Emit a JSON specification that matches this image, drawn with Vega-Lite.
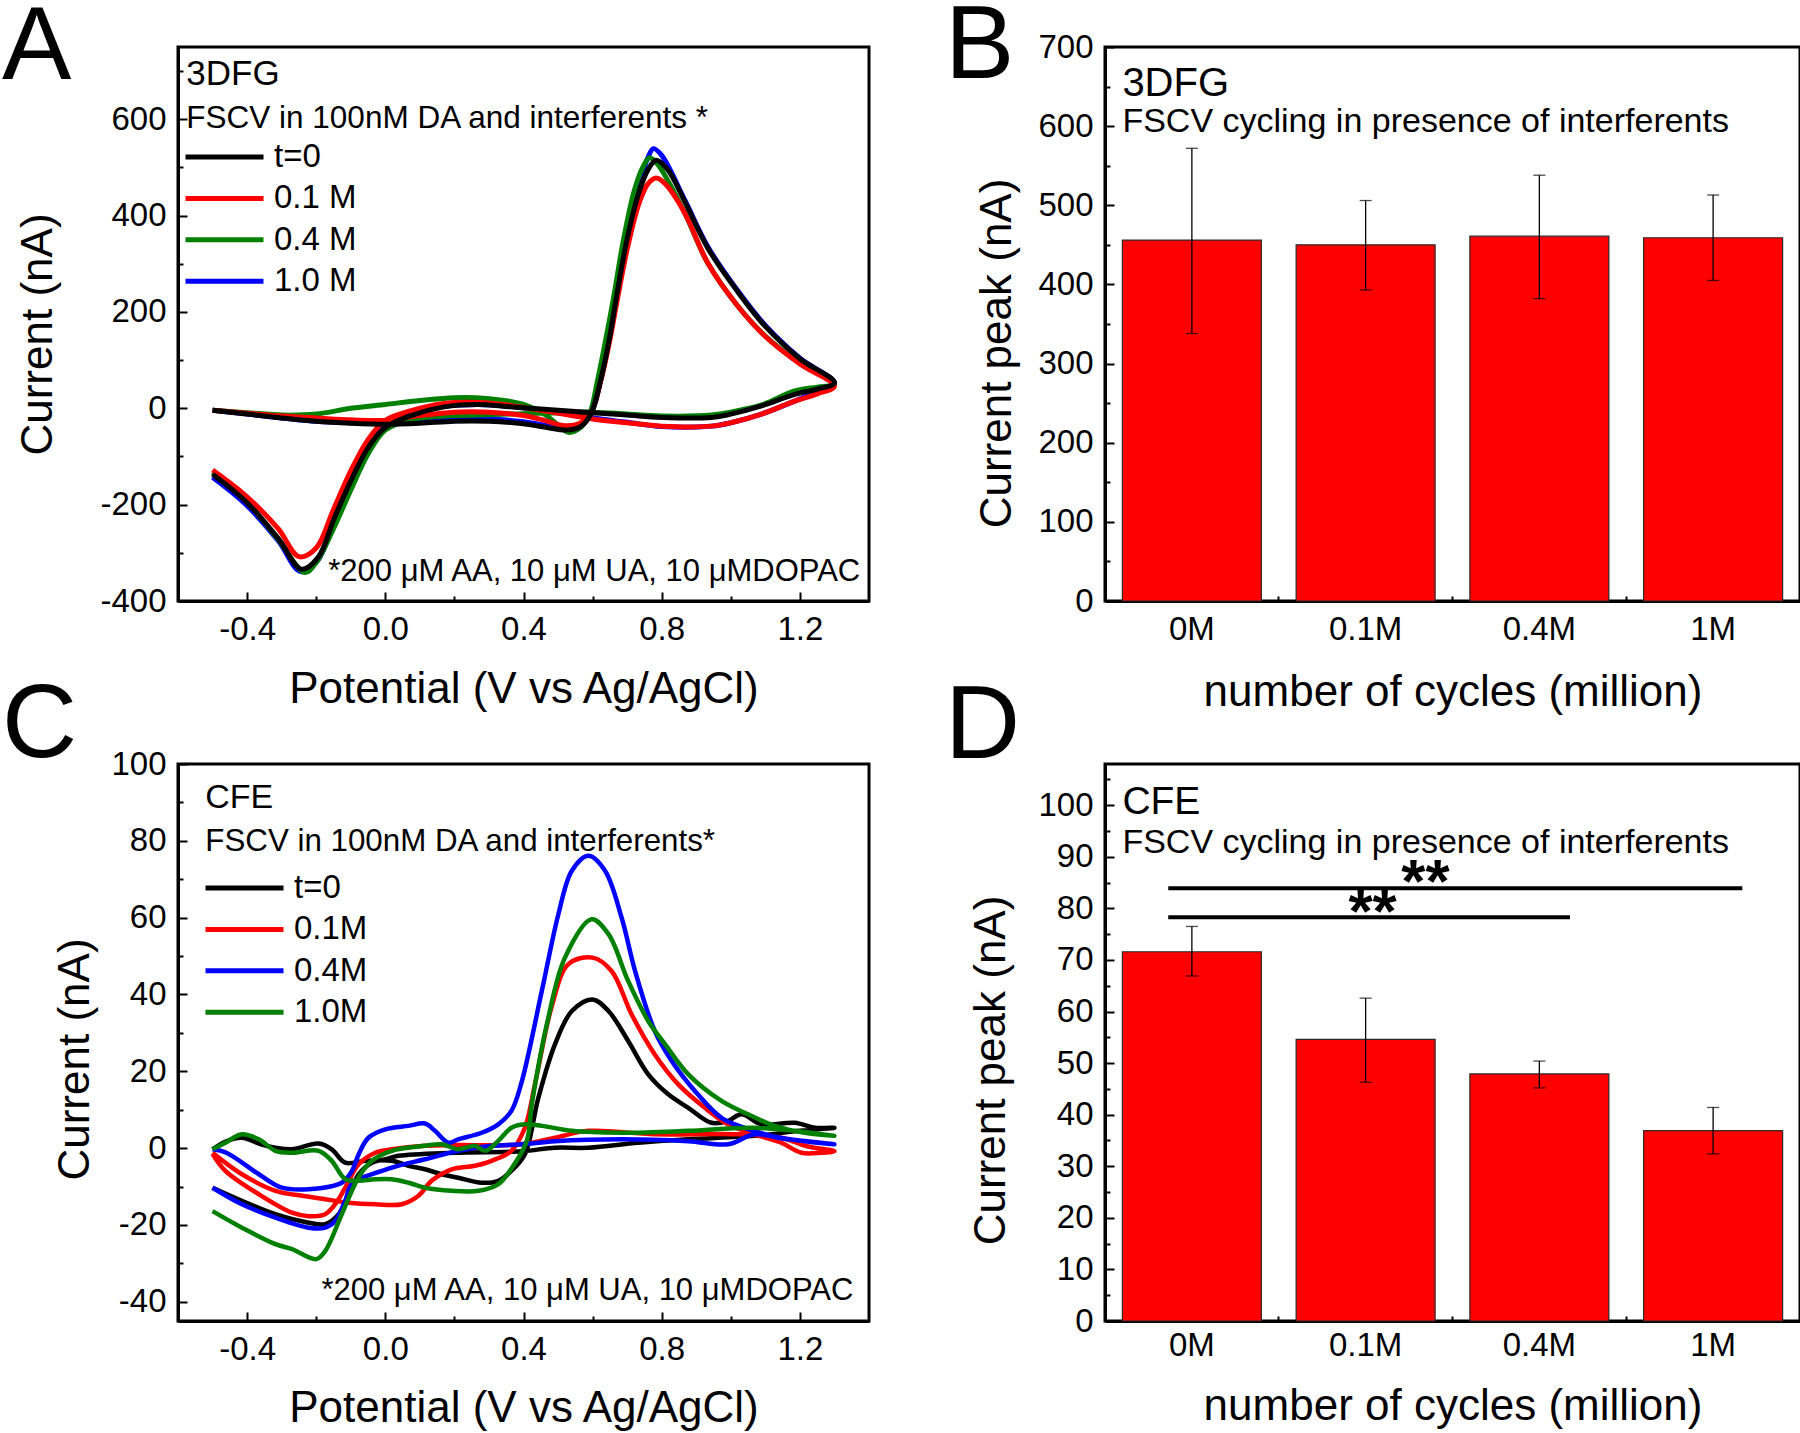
{
"$schema": "https://vega.github.io/schema/vega-lite/v6.json",
"padding": {"left": 0, "top": -7, "right": 0, "bottom": 0},
"bounds": "flush",
"columns": 2,
"spacing": {"row": 163, "column": 236},
"resolve": {"scale": {"x": "independent", "y": "independent", "color": "independent"}, "legend": {"color": "independent"}},
"config": {
  "font": "Liberation Sans",
  "background": "white",
  "view": {"stroke": "black", "strokeWidth": 3},
  "axis": {"domainColor": "black", "domainWidth": 3, "tickColor": "black", "tickWidth": 2, "tickSize": -9, "labelFontSize": 33, "labelColor": "black", "labelPadding": 21, "titleFontSize": 44, "titleFontWeight": "normal", "titleColor": "black", "grid": false, "labelFont": "Liberation Sans", "titleFont": "Liberation Sans", "labelOverlap": false},
  "title": {"fontSize": 104, "fontWeight": "normal", "color": "black", "anchor": "start", "frame": "group", "baseline": "alphabetic", "font": "Liberation Sans"},
  "legend": {"symbolType": "stroke", "symbolSize": 6084, "symbolStrokeWidth": 5, "labelFontSize": 33, "labelColor": "black", "clipHeight": 40, "rowPadding": 1.4, "labelOffset": 8, "padding": 0, "labelFont": "Liberation Sans"},
  "text": {"color": "black", "font": "Liberation Sans"}
},
"datasets": {
"cvA": [
{"s":"1.0 M","k":0,"v":-0.5,"i":-4},{"s":"1.0 M","k":1,"v":-0.4,"i":-12},{"s":"1.0 M","k":2,"v":-0.3,"i":-20},{"s":"1.0 M","k":3,"v":-0.2,"i":-27},{"s":"1.0 M","k":4,"v":-0.1,"i":-30},{"s":"1.0 M","k":5,"v":0,"i":-31},{"s":"1.0 M","k":6,"v":0.1,"i":-28},{"s":"1.0 M","k":7,"v":0.2,"i":-22},{"s":"1.0 M","k":8,"v":0.3,"i":-22},{"s":"1.0 M","k":9,"v":0.4,"i":-28},{"s":"1.0 M","k":10,"v":0.46,"i":-35},{"s":"1.0 M","k":11,"v":0.52,"i":-42},{"s":"1.0 M","k":12,"v":0.56,"i":-38},{"s":"1.0 M","k":13,"v":0.595,"i":-12},{"s":"1.0 M","k":14,"v":0.624,"i":62},{"s":"1.0 M","k":15,"v":0.65,"i":152},{"s":"1.0 M","k":16,"v":0.668,"i":232},{"s":"1.0 M","k":17,"v":0.7,"i":362},{"s":"1.0 M","k":18,"v":0.734,"i":462},{"s":"1.0 M","k":19,"v":0.76,"i":520},{"s":"1.0 M","k":20,"v":0.776,"i":539},{"s":"1.0 M","k":21,"v":0.8,"i":525},{"s":"1.0 M","k":22,"v":0.867,"i":432},{"s":"1.0 M","k":23,"v":0.933,"i":336},{"s":"1.0 M","k":24,"v":1.016,"i":248},{"s":"1.0 M","k":25,"v":1.1,"i":172},{"s":"1.0 M","k":26,"v":1.2,"i":104},{"s":"1.0 M","k":27,"v":1.3,"i":52},{"s":"1.0 M","k":28,"v":1.25,"i":35},{"s":"1.0 M","k":29,"v":1.185,"i":15},{"s":"1.0 M","k":30,"v":1.089,"i":-12},{"s":"1.0 M","k":31,"v":1.0,"i":-30},{"s":"1.0 M","k":32,"v":0.944,"i":-37},{"s":"1.0 M","k":33,"v":0.8,"i":-38},{"s":"1.0 M","k":34,"v":0.7,"i":-29},{"s":"1.0 M","k":35,"v":0.6,"i":-20},{"s":"1.0 M","k":36,"v":0.46,"i":-5},{"s":"1.0 M","k":37,"v":0.36,"i":4},{"s":"1.0 M","k":38,"v":0.27,"i":8},{"s":"1.0 M","k":39,"v":0.17,"i":4},{"s":"1.0 M","k":40,"v":0.075,"i":-12},{"s":"1.0 M","k":41,"v":0,"i":-35},{"s":"1.0 M","k":42,"v":-0.05,"i":-80},{"s":"1.0 M","k":43,"v":-0.1,"i":-150},{"s":"1.0 M","k":44,"v":-0.147,"i":-230},{"s":"1.0 M","k":45,"v":-0.195,"i":-315},{"s":"1.0 M","k":46,"v":-0.245,"i":-339},{"s":"1.0 M","k":47,"v":-0.31,"i":-275},{"s":"1.0 M","k":48,"v":-0.406,"i":-198},{"s":"1.0 M","k":49,"v":-0.5,"i":-143},
{"s":"0.4 M","k":0,"v":-0.5,"i":-4},{"s":"0.4 M","k":1,"v":-0.4,"i":-9},{"s":"0.4 M","k":2,"v":-0.3,"i":-14},{"s":"0.4 M","k":3,"v":-0.2,"i":-12},{"s":"0.4 M","k":4,"v":-0.1,"i":0},{"s":"0.4 M","k":5,"v":0,"i":8},{"s":"0.4 M","k":6,"v":0.1,"i":16},{"s":"0.4 M","k":7,"v":0.2,"i":22},{"s":"0.4 M","k":8,"v":0.3,"i":20},{"s":"0.4 M","k":9,"v":0.4,"i":8},{"s":"0.4 M","k":10,"v":0.46,"i":-12},{"s":"0.4 M","k":11,"v":0.5,"i":-35},{"s":"0.4 M","k":12,"v":0.53,"i":-50},{"s":"0.4 M","k":13,"v":0.565,"i":-40},{"s":"0.4 M","k":14,"v":0.59,"i":-15},{"s":"0.4 M","k":15,"v":0.615,"i":60},{"s":"0.4 M","k":16,"v":0.64,"i":150},{"s":"0.4 M","k":17,"v":0.66,"i":227},{"s":"0.4 M","k":18,"v":0.69,"i":352},{"s":"0.4 M","k":19,"v":0.72,"i":450},{"s":"0.4 M","k":20,"v":0.745,"i":500},{"s":"0.4 M","k":21,"v":0.765,"i":520},{"s":"0.4 M","k":22,"v":0.79,"i":505},{"s":"0.4 M","k":23,"v":0.82,"i":470},{"s":"0.4 M","k":24,"v":0.867,"i":405},{"s":"0.4 M","k":25,"v":0.933,"i":302},{"s":"0.4 M","k":26,"v":1.016,"i":216},{"s":"0.4 M","k":27,"v":1.1,"i":150},{"s":"0.4 M","k":28,"v":1.2,"i":94},{"s":"0.4 M","k":29,"v":1.3,"i":50},{"s":"0.4 M","k":30,"v":1.25,"i":44},{"s":"0.4 M","k":31,"v":1.185,"i":36},{"s":"0.4 M","k":32,"v":1.089,"i":7},{"s":"0.4 M","k":33,"v":1.0,"i":-8},{"s":"0.4 M","k":34,"v":0.944,"i":-14},{"s":"0.4 M","k":35,"v":0.8,"i":-16},{"s":"0.4 M","k":36,"v":0.7,"i":-12},{"s":"0.4 M","k":37,"v":0.6,"i":-8},{"s":"0.4 M","k":38,"v":0.46,"i":-10},{"s":"0.4 M","k":39,"v":0.36,"i":-12},{"s":"0.4 M","k":40,"v":0.27,"i":-14},{"s":"0.4 M","k":41,"v":0.17,"i":-16},{"s":"0.4 M","k":42,"v":0.075,"i":-24},{"s":"0.4 M","k":43,"v":0,"i":-45},{"s":"0.4 M","k":44,"v":-0.05,"i":-95},{"s":"0.4 M","k":45,"v":-0.1,"i":-170},{"s":"0.4 M","k":46,"v":-0.15,"i":-250},{"s":"0.4 M","k":47,"v":-0.2,"i":-320},{"s":"0.4 M","k":48,"v":-0.233,"i":-341},{"s":"0.4 M","k":49,"v":-0.31,"i":-272},{"s":"0.4 M","k":50,"v":-0.406,"i":-190},{"s":"0.4 M","k":51,"v":-0.5,"i":-133},
{"s":"0.1 M","k":0,"v":-0.5,"i":-4},{"s":"0.1 M","k":1,"v":-0.4,"i":-10},{"s":"0.1 M","k":2,"v":-0.3,"i":-16},{"s":"0.1 M","k":3,"v":-0.2,"i":-20},{"s":"0.1 M","k":4,"v":-0.1,"i":-24},{"s":"0.1 M","k":5,"v":0,"i":-25},{"s":"0.1 M","k":6,"v":0.1,"i":-15},{"s":"0.1 M","k":7,"v":0.2,"i":-8},{"s":"0.1 M","k":8,"v":0.3,"i":-8},{"s":"0.1 M","k":9,"v":0.4,"i":-15},{"s":"0.1 M","k":10,"v":0.46,"i":-25},{"s":"0.1 M","k":11,"v":0.52,"i":-36},{"s":"0.1 M","k":12,"v":0.56,"i":-32},{"s":"0.1 M","k":13,"v":0.595,"i":-10},{"s":"0.1 M","k":14,"v":0.624,"i":58},{"s":"0.1 M","k":15,"v":0.65,"i":142},{"s":"0.1 M","k":16,"v":0.668,"i":212},{"s":"0.1 M","k":17,"v":0.7,"i":330},{"s":"0.1 M","k":18,"v":0.734,"i":425},{"s":"0.1 M","k":19,"v":0.76,"i":466},{"s":"0.1 M","k":20,"v":0.784,"i":478},{"s":"0.1 M","k":21,"v":0.81,"i":466},{"s":"0.1 M","k":22,"v":0.867,"i":405},{"s":"0.1 M","k":23,"v":0.933,"i":302},{"s":"0.1 M","k":24,"v":1.016,"i":216},{"s":"0.1 M","k":25,"v":1.1,"i":149},{"s":"0.1 M","k":26,"v":1.2,"i":92},{"s":"0.1 M","k":27,"v":1.3,"i":46},{"s":"0.1 M","k":28,"v":1.25,"i":30},{"s":"0.1 M","k":29,"v":1.185,"i":15},{"s":"0.1 M","k":30,"v":1.089,"i":-12},{"s":"0.1 M","k":31,"v":1.0,"i":-30},{"s":"0.1 M","k":32,"v":0.944,"i":-37},{"s":"0.1 M","k":33,"v":0.8,"i":-37},{"s":"0.1 M","k":34,"v":0.7,"i":-30},{"s":"0.1 M","k":35,"v":0.6,"i":-22},{"s":"0.1 M","k":36,"v":0.46,"i":-5},{"s":"0.1 M","k":37,"v":0.36,"i":6},{"s":"0.1 M","k":38,"v":0.27,"i":12},{"s":"0.1 M","k":39,"v":0.17,"i":10},{"s":"0.1 M","k":40,"v":0.075,"i":-5},{"s":"0.1 M","k":41,"v":0,"i":-25},{"s":"0.1 M","k":42,"v":-0.05,"i":-65},{"s":"0.1 M","k":43,"v":-0.1,"i":-130},{"s":"0.1 M","k":44,"v":-0.15,"i":-210},{"s":"0.1 M","k":45,"v":-0.2,"i":-290},{"s":"0.1 M","k":46,"v":-0.25,"i":-308},{"s":"0.1 M","k":47,"v":-0.31,"i":-250},{"s":"0.1 M","k":48,"v":-0.406,"i":-180},{"s":"0.1 M","k":49,"v":-0.5,"i":-128},
{"s":"t=0","k":0,"v":-0.5,"i":-4},{"s":"t=0","k":1,"v":-0.4,"i":-12},{"s":"t=0","k":2,"v":-0.3,"i":-20},{"s":"t=0","k":3,"v":-0.2,"i":-27},{"s":"t=0","k":4,"v":-0.1,"i":-31},{"s":"t=0","k":5,"v":0,"i":-33},{"s":"t=0","k":6,"v":0.1,"i":-31},{"s":"t=0","k":7,"v":0.2,"i":-27},{"s":"t=0","k":8,"v":0.3,"i":-27},{"s":"t=0","k":9,"v":0.4,"i":-32},{"s":"t=0","k":10,"v":0.46,"i":-39},{"s":"t=0","k":11,"v":0.528,"i":-45},{"s":"t=0","k":12,"v":0.565,"i":-38},{"s":"t=0","k":13,"v":0.595,"i":-12},{"s":"t=0","k":14,"v":0.624,"i":60},{"s":"t=0","k":15,"v":0.65,"i":150},{"s":"t=0","k":16,"v":0.668,"i":227},{"s":"t=0","k":17,"v":0.7,"i":352},{"s":"t=0","k":18,"v":0.734,"i":448},{"s":"t=0","k":19,"v":0.76,"i":495},{"s":"t=0","k":20,"v":0.784,"i":515},{"s":"t=0","k":21,"v":0.817,"i":496},{"s":"t=0","k":22,"v":0.867,"i":429},{"s":"t=0","k":23,"v":0.933,"i":333},{"s":"t=0","k":24,"v":1.016,"i":246},{"s":"t=0","k":25,"v":1.1,"i":170},{"s":"t=0","k":26,"v":1.2,"i":103},{"s":"t=0","k":27,"v":1.3,"i":53},{"s":"t=0","k":28,"v":1.25,"i":40},{"s":"t=0","k":29,"v":1.185,"i":29},{"s":"t=0","k":30,"v":1.089,"i":5},{"s":"t=0","k":31,"v":1.0,"i":-12},{"s":"t=0","k":32,"v":0.944,"i":-19},{"s":"t=0","k":33,"v":0.8,"i":-19},{"s":"t=0","k":34,"v":0.7,"i":-14},{"s":"t=0","k":35,"v":0.6,"i":-9},{"s":"t=0","k":36,"v":0.46,"i":-2},{"s":"t=0","k":37,"v":0.36,"i":3},{"s":"t=0","k":38,"v":0.27,"i":8},{"s":"t=0","k":39,"v":0.17,"i":3},{"s":"t=0","k":40,"v":0.075,"i":-15},{"s":"t=0","k":41,"v":0,"i":-40},{"s":"t=0","k":42,"v":-0.05,"i":-82},{"s":"t=0","k":43,"v":-0.1,"i":-151},{"s":"t=0","k":44,"v":-0.147,"i":-227},{"s":"t=0","k":45,"v":-0.195,"i":-310},{"s":"t=0","k":46,"v":-0.243,"i":-334},{"s":"t=0","k":47,"v":-0.31,"i":-270},{"s":"t=0","k":48,"v":-0.406,"i":-192},{"s":"t=0","k":49,"v":-0.5,"i":-137}
],
"cvC": [
{"s":"t=0","k":0,"v":-0.5,"i":-0.3},{"s":"t=0","k":1,"v":-0.46,"i":1.8},{"s":"t=0","k":2,"v":-0.415,"i":2.7},{"s":"t=0","k":3,"v":-0.36,"i":1},{"s":"t=0","k":4,"v":-0.318,"i":0.1},{"s":"t=0","k":5,"v":-0.27,"i":-0.3},{"s":"t=0","k":6,"v":-0.193,"i":1.2},{"s":"t=0","k":7,"v":-0.155,"i":-0.3},{"s":"t=0","k":8,"v":-0.116,"i":-3.8},{"s":"t=0","k":9,"v":-0.058,"i":-3.3},{"s":"t=0","k":10,"v":0.019,"i":-3.3},{"s":"t=0","k":11,"v":0.067,"i":-4.6},{"s":"t=0","k":12,"v":0.115,"i":-5.5},{"s":"t=0","k":13,"v":0.163,"i":-6.8},{"s":"t=0","k":14,"v":0.211,"i":-7.7},{"s":"t=0","k":15,"v":0.279,"i":-9},{"s":"t=0","k":16,"v":0.327,"i":-8.5},{"s":"t=0","k":17,"v":0.365,"i":-5.9},{"s":"t=0","k":18,"v":0.404,"i":-1.6},{"s":"t=0","k":19,"v":0.443,"i":13.1},{"s":"t=0","k":20,"v":0.491,"i":27},{"s":"t=0","k":21,"v":0.54,"i":35.7},{"s":"t=0","k":22,"v":0.6,"i":38.7},{"s":"t=0","k":23,"v":0.646,"i":35.7},{"s":"t=0","k":24,"v":0.703,"i":27.9},{"s":"t=0","k":25,"v":0.761,"i":19.2},{"s":"t=0","k":26,"v":0.819,"i":14},{"s":"t=0","k":27,"v":0.877,"i":10.5},{"s":"t=0","k":28,"v":0.944,"i":6.6},{"s":"t=0","k":29,"v":0.992,"i":7.1},{"s":"t=0","k":30,"v":1.031,"i":8.8},{"s":"t=0","k":31,"v":1.089,"i":6.2},{"s":"t=0","k":32,"v":1.185,"i":6.6},{"s":"t=0","k":33,"v":1.243,"i":5.3},{"s":"t=0","k":34,"v":1.3,"i":5.3},{"s":"t=0","k":35,"v":1.2,"i":4.5},{"s":"t=0","k":36,"v":1.069,"i":3.2},{"s":"t=0","k":37,"v":0.877,"i":2.3},{"s":"t=0","k":38,"v":0.732,"i":1.4},{"s":"t=0","k":39,"v":0.588,"i":0.1},{"s":"t=0","k":40,"v":0.491,"i":0.1},{"s":"t=0","k":41,"v":0.395,"i":-0.8},{"s":"t=0","k":42,"v":0.2,"i":-1.2},{"s":"t=0","k":43,"v":0.038,"i":-2},{"s":"t=0","k":44,"v":0,"i":-2.9},{"s":"t=0","k":45,"v":-0.039,"i":-3.8},{"s":"t=0","k":46,"v":-0.077,"i":-6.8},{"s":"t=0","k":47,"v":-0.106,"i":-12},{"s":"t=0","k":48,"v":-0.135,"i":-17.2},{"s":"t=0","k":49,"v":-0.174,"i":-19.8},{"s":"t=0","k":50,"v":-0.222,"i":-19.4},{"s":"t=0","k":51,"v":-0.318,"i":-17.2},{"s":"t=0","k":52,"v":-0.415,"i":-13.7},{"s":"t=0","k":53,"v":-0.5,"i":-10.3},
{"s":"0.1M","k":0,"v":-0.5,"i":-1.2},{"s":"0.1M","k":1,"v":-0.415,"i":-6.8},{"s":"0.1M","k":2,"v":-0.318,"i":-11.1},{"s":"0.1M","k":3,"v":-0.24,"i":-12.4},{"s":"0.1M","k":4,"v":-0.174,"i":-13.3},{"s":"0.1M","k":5,"v":-0.106,"i":-14.2},{"s":"0.1M","k":6,"v":-0.029,"i":-14.6},{"s":"0.1M","k":7,"v":0.048,"i":-14.6},{"s":"0.1M","k":8,"v":0.096,"i":-12.4},{"s":"0.1M","k":9,"v":0.134,"i":-8.5},{"s":"0.1M","k":10,"v":0.192,"i":-5.5},{"s":"0.1M","k":11,"v":0.26,"i":-4.6},{"s":"0.1M","k":12,"v":0.308,"i":-3.3},{"s":"0.1M","k":13,"v":0.365,"i":-0.7},{"s":"0.1M","k":14,"v":0.404,"i":5.3},{"s":"0.1M","k":15,"v":0.434,"i":17},{"s":"0.1M","k":16,"v":0.482,"i":37},{"s":"0.1M","k":17,"v":0.53,"i":47.9},{"s":"0.1M","k":18,"v":0.6,"i":49.6},{"s":"0.1M","k":19,"v":0.655,"i":46.1},{"s":"0.1M","k":20,"v":0.713,"i":34.8},{"s":"0.1M","k":21,"v":0.78,"i":24.4},{"s":"0.1M","k":22,"v":0.848,"i":16.6},{"s":"0.1M","k":23,"v":0.925,"i":10.5},{"s":"0.1M","k":24,"v":0.992,"i":6.2},{"s":"0.1M","k":25,"v":1.069,"i":3.6},{"s":"0.1M","k":26,"v":1.146,"i":1.4},{"s":"0.1M","k":27,"v":1.204,"i":-1.2},{"s":"0.1M","k":28,"v":1.262,"i":-1.2},{"s":"0.1M","k":29,"v":1.3,"i":-0.8},{"s":"0.1M","k":30,"v":1.22,"i":0.5},{"s":"0.1M","k":31,"v":1.146,"i":2.7},{"s":"0.1M","k":32,"v":1.021,"i":3.6},{"s":"0.1M","k":33,"v":0.78,"i":3.6},{"s":"0.1M","k":34,"v":0.588,"i":4.5},{"s":"0.1M","k":35,"v":0.491,"i":2.7},{"s":"0.1M","k":36,"v":0.395,"i":1},{"s":"0.1M","k":37,"v":0.2,"i":0.8},{"s":"0.1M","k":38,"v":0.115,"i":0.6},{"s":"0.1M","k":39,"v":0.019,"i":-0.3},{"s":"0.1M","k":40,"v":-0.029,"i":-1.2},{"s":"0.1M","k":41,"v":-0.077,"i":-4.2},{"s":"0.1M","k":42,"v":-0.116,"i":-10.3},{"s":"0.1M","k":43,"v":-0.145,"i":-14.6},{"s":"0.1M","k":44,"v":-0.174,"i":-17.2},{"s":"0.1M","k":45,"v":-0.222,"i":-17.7},{"s":"0.1M","k":46,"v":-0.27,"i":-16.8},{"s":"0.1M","k":47,"v":-0.366,"i":-12},{"s":"0.1M","k":48,"v":-0.463,"i":-5.9},{"s":"0.1M","k":49,"v":-0.5,"i":-1.5},
{"s":"0.4M","k":0,"v":-0.5,"i":-0.3},{"s":"0.4M","k":1,"v":-0.46,"i":-1.2},{"s":"0.4M","k":2,"v":-0.366,"i":-6.8},{"s":"0.4M","k":3,"v":-0.299,"i":-10.3},{"s":"0.4M","k":4,"v":-0.222,"i":-10.7},{"s":"0.4M","k":5,"v":-0.126,"i":-9},{"s":"0.4M","k":6,"v":-0.097,"i":-6},{"s":"0.4M","k":7,"v":-0.077,"i":-1.6},{"s":"0.4M","k":8,"v":-0.049,"i":2.7},{"s":"0.4M","k":9,"v":0,"i":4.9},{"s":"0.4M","k":10,"v":0.067,"i":5.8},{"s":"0.4M","k":11,"v":0.115,"i":6.4},{"s":"0.4M","k":12,"v":0.144,"i":4.5},{"s":"0.4M","k":13,"v":0.183,"i":1.4},{"s":"0.4M","k":14,"v":0.211,"i":2.3},{"s":"0.4M","k":15,"v":0.279,"i":4},{"s":"0.4M","k":16,"v":0.327,"i":6.2},{"s":"0.4M","k":17,"v":0.365,"i":9.7},{"s":"0.4M","k":18,"v":0.394,"i":17},{"s":"0.4M","k":19,"v":0.453,"i":40.9},{"s":"0.4M","k":20,"v":0.501,"i":60.9},{"s":"0.4M","k":21,"v":0.54,"i":72.2},{"s":"0.4M","k":22,"v":0.588,"i":76.1},{"s":"0.4M","k":23,"v":0.636,"i":72.2},{"s":"0.4M","k":24,"v":0.684,"i":60},{"s":"0.4M","k":25,"v":0.723,"i":46.1},{"s":"0.4M","k":26,"v":0.78,"i":30.5},{"s":"0.4M","k":27,"v":0.829,"i":22.7},{"s":"0.4M","k":28,"v":0.896,"i":14.9},{"s":"0.4M","k":29,"v":0.973,"i":7.9},{"s":"0.4M","k":30,"v":1.04,"i":5.3},{"s":"0.4M","k":31,"v":1.118,"i":3.2},{"s":"0.4M","k":32,"v":1.214,"i":1.8},{"s":"0.4M","k":33,"v":1.3,"i":1},{"s":"0.4M","k":34,"v":1.15,"i":2.5},{"s":"0.4M","k":35,"v":1.069,"i":3.6},{"s":"0.4M","k":36,"v":0.992,"i":1},{"s":"0.4M","k":37,"v":0.877,"i":1.8},{"s":"0.4M","k":38,"v":0.684,"i":2.3},{"s":"0.4M","k":39,"v":0.491,"i":1.8},{"s":"0.4M","k":40,"v":0.395,"i":1},{"s":"0.4M","k":41,"v":0.308,"i":0.6},{"s":"0.4M","k":42,"v":0.211,"i":-0.7},{"s":"0.4M","k":43,"v":0.115,"i":-2.9},{"s":"0.4M","k":44,"v":0.019,"i":-5.1},{"s":"0.4M","k":45,"v":-0.097,"i":-9.4},{"s":"0.4M","k":46,"v":-0.116,"i":-13.7},{"s":"0.4M","k":47,"v":-0.145,"i":-19},{"s":"0.4M","k":48,"v":-0.174,"i":-20.7},{"s":"0.4M","k":49,"v":-0.222,"i":-20.7},{"s":"0.4M","k":50,"v":-0.318,"i":-18.1},{"s":"0.4M","k":51,"v":-0.415,"i":-14.6},{"s":"0.4M","k":52,"v":-0.5,"i":-10.3},
{"s":"1.0M","k":0,"v":-0.5,"i":-0.3},{"s":"1.0M","k":1,"v":-0.463,"i":1.4},{"s":"1.0M","k":2,"v":-0.415,"i":3.6},{"s":"1.0M","k":3,"v":-0.366,"i":2.3},{"s":"1.0M","k":4,"v":-0.318,"i":-0.7},{"s":"1.0M","k":5,"v":-0.27,"i":-1.2},{"s":"1.0M","k":6,"v":-0.193,"i":-0.7},{"s":"1.0M","k":7,"v":-0.155,"i":-3.3},{"s":"1.0M","k":8,"v":-0.116,"i":-8.1},{"s":"1.0M","k":9,"v":-0.077,"i":-8.5},{"s":"1.0M","k":10,"v":-0.029,"i":-8.1},{"s":"1.0M","k":11,"v":0.019,"i":-8.1},{"s":"1.0M","k":12,"v":0.067,"i":-9},{"s":"1.0M","k":13,"v":0.115,"i":-10.3},{"s":"1.0M","k":14,"v":0.192,"i":-11.1},{"s":"1.0M","k":15,"v":0.27,"i":-11.1},{"s":"1.0M","k":16,"v":0.327,"i":-9.4},{"s":"1.0M","k":17,"v":0.375,"i":-4},{"s":"1.0M","k":18,"v":0.41,"i":2},{"s":"1.0M","k":19,"v":0.424,"i":11.4},{"s":"1.0M","k":20,"v":0.472,"i":34},{"s":"1.0M","k":21,"v":0.52,"i":49.6},{"s":"1.0M","k":22,"v":0.597,"i":59.6},{"s":"1.0M","k":23,"v":0.646,"i":55.7},{"s":"1.0M","k":24,"v":0.703,"i":43.5},{"s":"1.0M","k":25,"v":0.761,"i":33.1},{"s":"1.0M","k":26,"v":0.81,"i":27},{"s":"1.0M","k":27,"v":0.877,"i":19.2},{"s":"1.0M","k":28,"v":0.973,"i":12.3},{"s":"1.0M","k":29,"v":1.05,"i":8.8},{"s":"1.0M","k":30,"v":1.127,"i":5.8},{"s":"1.0M","k":31,"v":1.214,"i":4},{"s":"1.0M","k":32,"v":1.3,"i":3.2},{"s":"1.0M","k":33,"v":1.069,"i":5.3},{"s":"1.0M","k":34,"v":0.877,"i":4.5},{"s":"1.0M","k":35,"v":0.684,"i":4},{"s":"1.0M","k":36,"v":0.54,"i":4.5},{"s":"1.0M","k":37,"v":0.453,"i":5.8},{"s":"1.0M","k":38,"v":0.404,"i":6.2},{"s":"1.0M","k":39,"v":0.365,"i":5.3},{"s":"1.0M","k":40,"v":0.327,"i":1.9},{"s":"1.0M","k":41,"v":0.289,"i":-0.7},{"s":"1.0M","k":42,"v":0.26,"i":0.6},{"s":"1.0M","k":43,"v":0.211,"i":-0.3},{"s":"1.0M","k":44,"v":0.163,"i":1},{"s":"1.0M","k":45,"v":0.115,"i":0.6},{"s":"1.0M","k":46,"v":0.019,"i":-0.7},{"s":"1.0M","k":47,"v":-0.039,"i":-3.3},{"s":"1.0M","k":48,"v":-0.078,"i":-7.7},{"s":"1.0M","k":49,"v":-0.126,"i":-17.2},{"s":"1.0M","k":50,"v":-0.174,"i":-26.8},{"s":"1.0M","k":51,"v":-0.2,"i":-28.9},{"s":"1.0M","k":52,"v":-0.27,"i":-26.3},{"s":"1.0M","k":53,"v":-0.318,"i":-25},{"s":"1.0M","k":54,"v":-0.415,"i":-20.7},{"s":"1.0M","k":55,"v":-0.5,"i":-16.4}
],
"barB": [
{"c":"0M","m":456,"lo":338,"hi":572},
{"c":"0.1M","m":450,"lo":393,"hi":506},
{"c":"0.4M","m":461,"lo":382,"hi":538},
{"c":"1M","m":459,"lo":405,"hi":513}
],
"barD": [
{"c":"0M","m":71.6,"lo":66.9,"hi":76.5},
{"c":"0.1M","m":54.6,"lo":46.3,"hi":62.6},
{"c":"0.4M","m":47.9,"lo":45.2,"hi":50.4},
{"c":"1M","m":36.9,"lo":32.4,"hi":41.4}
]
},
"concat": [
{
 "width": 691, "height": 554,
 "title": {"text": "A", "dx": -176, "offset": -54},
 "resolve": {"axis": {"x": "independent", "y": "independent"}},
 "layer": [
  {"data": {"name": "cvA"},
   "mark": {"type": "line", "strokeWidth": 5, "interpolate": "catmull-rom", "clip": true},
   "encoding": {
    "x": {"field": "v", "type": "quantitative", "scale": {"domain": [-0.6, 1.4], "nice": false, "zero": false},
          "axis": {"orient": "bottom", "values": [-0.4, 0, 0.4, 0.8, 1.2], "format": ".1f", "labelExpr": "replace(datum.label, '−', '-')", "title": "Potential (V vs Ag/AgCl)", "titlePadding": 21}},
    "y": {"field": "i", "type": "quantitative", "scale": {"domain": [-400, 750], "nice": false, "zero": false},
          "axis": {"orient": "left", "values": [-400, -200, 0, 200, 400, 600], "labelExpr": "replace(datum.label, '−', '-')", "title": "Current (nA)", "titlePadding": 39, "titleY": 287}},
    "color": {"field": "s", "type": "nominal", "scale": {"domain": ["t=0", "0.1 M", "0.4 M", "1.0 M"], "range": ["#000000", "#ff0000", "#008000", "#0000ff"]},
              "legend": {"orient": "none", "legendX": 5, "legendY": 90, "title": null}},
    "order": {"field": "k", "type": "quantitative"}
   }},
  {"data": {"values": [{}]}, "mark": {"type": "point", "opacity": 0},
   "encoding": {"x": {"datum": 0, "type": "quantitative", "axis": {"orient": "bottom", "values": [-0.2, 0.2, 0.6, 1.0], "labels": false, "domain": false, "title": null, "tickSize": -5}},
                "y": {"datum": 0, "type": "quantitative", "axis": {"orient": "left", "values": [-300, -100, 100, 300, 500, 700], "labels": false, "domain": false, "title": null, "tickSize": -5}}}},
  {"data": {"values": [{}]}, "mark": {"type": "text", "align": "left", "baseline": "alphabetic", "fontSize": 35},
   "encoding": {"x": {"datum": -0.576, "type": "quantitative", "axis": null}, "y": {"datum": 671, "type": "quantitative", "axis": null}, "text": {"value": "3DFG"}}},
  {"data": {"values": [{}]}, "mark": {"type": "text", "align": "left", "baseline": "alphabetic", "fontSize": 31.5},
   "encoding": {"x": {"datum": -0.576, "type": "quantitative", "axis": null}, "y": {"datum": 582, "type": "quantitative", "axis": null}, "text": {"value": "FSCV in 100nM DA and interferents *"}}},
  {"data": {"values": [{}]}, "mark": {"type": "text", "align": "left", "baseline": "alphabetic", "fontSize": 31},
   "encoding": {"x": {"datum": -0.165, "type": "quantitative", "axis": null}, "y": {"datum": -358, "type": "quantitative", "axis": null}, "text": {"value": "*200 μM AA, 10 μM UA, 10 μMDOPAC"}}}
 ]
},
{
 "width": 695, "height": 554,
 "title": {"text": "B", "dx": -160, "offset": -69},
 "resolve": {"axis": {"x": "independent", "y": "independent"}},
 "layer": [
  {"data": {"name": "barB"},
   "mark": {"type": "bar", "fill": "#ff0000", "stroke": "#2b2b2b", "strokeWidth": 1.2},
   "encoding": {
    "x": {"field": "c", "type": "nominal", "sort": null, "scale": {"domain": ["0M", "0.1M", "0.4M", "1M"], "paddingInner": 0.2, "paddingOuter": 0.1},
          "axis": {"orient": "bottom", "labelAngle": 0, "title": "number of cycles (million)", "titlePadding": 24}},
    "y": {"field": "m", "type": "quantitative", "scale": {"domain": [0, 700], "nice": false},
          "axis": {"orient": "left", "values": [0, 100, 200, 300, 400, 500, 600, 700], "title": "Current peak (nA)", "titlePadding": 18, "titleY": 306}}
   }},
  {"data": {"values": [{}]}, "mark": {"type": "point", "opacity": 0},
   "encoding": {"x": {"datum": "0M", "type": "nominal", "axis": {"orient": "bottom", "values": ["0M", "0.1M", "0.4M"], "bandPosition": 1.125, "labels": false, "domain": false, "title": null, "tickSize": -5}},
                "y": {"datum": 0, "type": "quantitative", "axis": {"orient": "left", "values": [50, 150, 250, 350, 450, 550, 650], "labels": false, "domain": false, "title": null, "tickSize": -5}}}},
  {"data": {"name": "barB"}, "mark": {"type": "rule", "color": "black", "strokeWidth": 1.3},
   "encoding": {"x": {"field": "c", "type": "nominal", "axis": null}, "y": {"field": "lo", "type": "quantitative", "axis": null}, "y2": {"field": "hi"}}},
  {"data": {"name": "barB"}, "mark": {"type": "tick", "color": "black", "size": 12, "thickness": 1.3},
   "encoding": {"x": {"field": "c", "type": "nominal", "axis": null}, "y": {"field": "lo", "type": "quantitative", "axis": null}}},
  {"data": {"name": "barB"}, "mark": {"type": "tick", "color": "black", "size": 12, "thickness": 1.3},
   "encoding": {"x": {"field": "c", "type": "nominal", "axis": null}, "y": {"field": "hi", "type": "quantitative", "axis": null}}},
  {"data": {"values": [{}]}, "mark": {"type": "text", "align": "left", "baseline": "alphabetic", "fontSize": 40},
   "encoding": {"x": {"datum": "0M", "type": "nominal", "bandPosition": 0, "axis": null}, "y": {"datum": 638, "type": "quantitative", "axis": null}, "text": {"value": "3DFG"}}},
  {"data": {"values": [{}]}, "mark": {"type": "text", "align": "left", "baseline": "alphabetic", "fontSize": 34},
   "encoding": {"x": {"datum": "0M", "type": "nominal", "bandPosition": 0, "axis": null}, "y": {"datum": 593, "type": "quantitative", "axis": null}, "text": {"value": "FSCV cycling in presence of interferents"}}}
 ]
},
{
 "width": 691, "height": 557,
 "title": {"text": "C", "dx": -176, "offset": -31},
 "resolve": {"axis": {"x": "independent", "y": "independent"}},
 "layer": [
  {"data": {"name": "cvC"},
   "mark": {"type": "line", "strokeWidth": 4.5, "interpolate": "catmull-rom", "clip": true},
   "encoding": {
    "x": {"field": "v", "type": "quantitative", "scale": {"domain": [-0.6, 1.4], "nice": false, "zero": false},
          "axis": {"orient": "bottom", "values": [-0.4, 0, 0.4, 0.8, 1.2], "format": ".1f", "labelExpr": "replace(datum.label, '−', '-')", "title": "Potential (V vs Ag/AgCl)", "titlePadding": 20}},
    "y": {"field": "i", "type": "quantitative", "scale": {"domain": [-45, 100], "nice": false, "zero": false},
          "axis": {"orient": "left", "values": [-40, -20, 0, 20, 40, 60, 80, 100], "labelExpr": "replace(datum.label, '−', '-')", "title": "Current (nA)", "titlePadding": 13, "titleY": 295}},
    "color": {"field": "s", "type": "nominal", "scale": {"domain": ["t=0", "0.1M", "0.4M", "1.0M"], "range": ["#000000", "#ff0000", "#0000ff", "#008000"]},
              "legend": {"orient": "none", "legendX": 25, "legendY": 104, "title": null}},
    "order": {"field": "k", "type": "quantitative"}
   }},
  {"data": {"values": [{}]}, "mark": {"type": "point", "opacity": 0},
   "encoding": {"x": {"datum": 0, "type": "quantitative", "axis": {"orient": "bottom", "values": [-0.2, 0.2, 0.6, 1.0], "labels": false, "domain": false, "title": null, "tickSize": -5}},
                "y": {"datum": 0, "type": "quantitative", "axis": {"orient": "left", "values": [-30, -10, 10, 30, 50, 70, 90], "labels": false, "domain": false, "title": null, "tickSize": -5}}}},
  {"data": {"values": [{}]}, "mark": {"type": "text", "align": "left", "baseline": "alphabetic", "fontSize": 34},
   "encoding": {"x": {"datum": -0.521, "type": "quantitative", "axis": null}, "y": {"datum": 88.6, "type": "quantitative", "axis": null}, "text": {"value": "CFE"}}},
  {"data": {"values": [{}]}, "mark": {"type": "text", "align": "left", "baseline": "alphabetic", "fontSize": 31.3},
   "encoding": {"x": {"datum": -0.521, "type": "quantitative", "axis": null}, "y": {"datum": 77.4, "type": "quantitative", "axis": null}, "text": {"value": "FSCV in 100nM DA and interferents*"}}},
  {"data": {"values": [{}]}, "mark": {"type": "text", "align": "left", "baseline": "alphabetic", "fontSize": 31},
   "encoding": {"x": {"datum": -0.185, "type": "quantitative", "axis": null}, "y": {"datum": -39.6, "type": "quantitative", "axis": null}, "text": {"value": "*200 μM AA, 10 μM UA, 10 μMDOPAC"}}}
 ]
},
{
 "width": 695, "height": 557,
 "title": {"text": "D", "dx": -160, "offset": -16},
 "resolve": {"axis": {"x": "independent", "y": "independent"}},
 "layer": [
  {"data": {"name": "barD"},
   "mark": {"type": "bar", "fill": "#ff0000", "stroke": "#2b2b2b", "strokeWidth": 1.2},
   "encoding": {
    "x": {"field": "c", "type": "nominal", "sort": null, "scale": {"domain": ["0M", "0.1M", "0.4M", "1M"], "paddingInner": 0.2, "paddingOuter": 0.1},
          "axis": {"orient": "bottom", "labelAngle": 0, "title": "number of cycles (million)", "titlePadding": 22, "labelPadding": 17}},
    "y": {"field": "m", "type": "quantitative", "scale": {"domain": [0, 108], "nice": false},
          "axis": {"orient": "left", "values": [0, 10, 20, 30, 40, 50, 60, 70, 80, 90, 100], "title": "Current peak (nA)", "titlePadding": 24, "titleY": 306}}
   }},
  {"data": {"values": [{}]}, "mark": {"type": "point", "opacity": 0},
   "encoding": {"x": {"datum": "0M", "type": "nominal", "axis": {"orient": "bottom", "values": ["0M", "0.1M", "0.4M"], "bandPosition": 1.125, "labels": false, "domain": false, "title": null, "tickSize": -5}},
                "y": {"datum": 0, "type": "quantitative", "axis": {"orient": "left", "values": [5, 15, 25, 35, 45, 55, 65, 75, 85, 95, 105], "labels": false, "domain": false, "title": null, "tickSize": -5}}}},
  {"data": {"name": "barD"}, "mark": {"type": "rule", "color": "black", "strokeWidth": 1.3},
   "encoding": {"x": {"field": "c", "type": "nominal", "axis": null}, "y": {"field": "lo", "type": "quantitative", "axis": null}, "y2": {"field": "hi"}}},
  {"data": {"name": "barD"}, "mark": {"type": "tick", "color": "black", "size": 12, "thickness": 1.3},
   "encoding": {"x": {"field": "c", "type": "nominal", "axis": null}, "y": {"field": "lo", "type": "quantitative", "axis": null}}},
  {"data": {"name": "barD"}, "mark": {"type": "tick", "color": "black", "size": 12, "thickness": 1.3},
   "encoding": {"x": {"field": "c", "type": "nominal", "axis": null}, "y": {"field": "hi", "type": "quantitative", "axis": null}}},
  {"data": {"values": [{}]}, "mark": {"type": "rule", "color": "black", "strokeWidth": 4},
   "encoding": {"x": {"datum": "0M", "type": "nominal", "bandPosition": 0.33, "axis": null}, "x2": {"datum": "1M", "bandPosition": 0.71}, "y": {"datum": 83.9, "type": "quantitative", "axis": null}}},
  {"data": {"values": [{}]}, "mark": {"type": "rule", "color": "black", "strokeWidth": 4},
   "encoding": {"x": {"datum": "0M", "type": "nominal", "bandPosition": 0.33, "axis": null}, "x2": {"datum": "0.4M", "bandPosition": 0.72}, "y": {"datum": 78.3, "type": "quantitative", "axis": null}}},
  {"data": {"values": [{}]}, "mark": {"type": "text", "align": "center", "baseline": "alphabetic", "fontSize": 62, "fontWeight": "bold"},
   "encoding": {"x": {"datum": "0.1M", "type": "nominal", "bandPosition": 0.93, "axis": null}, "y": {"datum": 81.3, "type": "quantitative", "axis": null}, "text": {"value": "**"}}},
  {"data": {"values": [{}]}, "mark": {"type": "text", "align": "center", "baseline": "alphabetic", "fontSize": 62, "fontWeight": "bold"},
   "encoding": {"x": {"datum": "0.1M", "type": "nominal", "bandPosition": 0.55, "axis": null}, "y": {"datum": 75.4, "type": "quantitative", "axis": null}, "text": {"value": "**"}}},
  {"data": {"values": [{}]}, "mark": {"type": "text", "align": "left", "baseline": "alphabetic", "fontSize": 39},
   "encoding": {"x": {"datum": "0M", "type": "nominal", "bandPosition": 0, "axis": null}, "y": {"datum": 98.3, "type": "quantitative", "axis": null}, "text": {"value": "CFE"}}},
  {"data": {"values": [{}]}, "mark": {"type": "text", "align": "left", "baseline": "alphabetic", "fontSize": 34},
   "encoding": {"x": {"datum": "0M", "type": "nominal", "bandPosition": 0, "axis": null}, "y": {"datum": 90.65, "type": "quantitative", "axis": null}, "text": {"value": "FSCV cycling in presence of interferents"}}}
 ]
}
]
}
